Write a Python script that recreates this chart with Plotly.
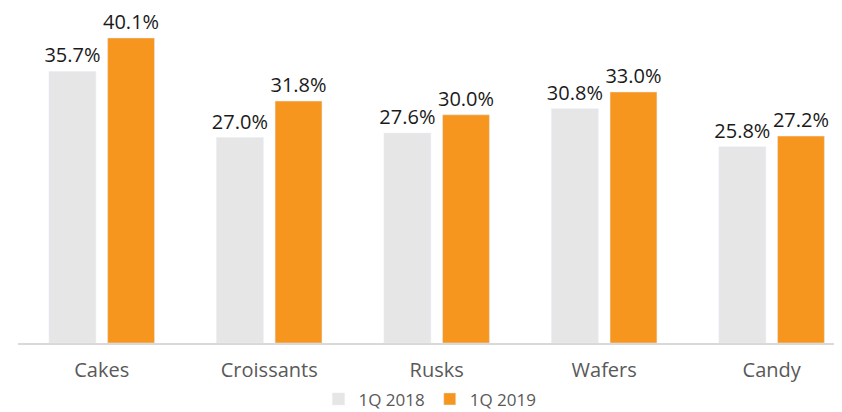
import plotly.graph_objects as go

categories = ["Cakes", "Croissants", "Rusks", "Wafers", "Candy"]
q2018 = [35.7, 27.0, 27.6, 30.8, 25.8]
q2019 = [40.1, 31.8, 30.0, 33.0, 27.2]
series_names = ["1Q 2018", "1Q 2019"]

fig = go.Figure()
fig.add_trace(go.Bar(x=categories, y=q2018, name=series_names[0], marker_color="#e6e6e6",
                     text=[f"{v:.1f}%" for v in q2018], textposition="outside",
                     textfont=dict(size=20, color="#1a1a1a"), cliponaxis=False))
fig.add_trace(go.Bar(x=categories, y=q2019, name=series_names[1], marker_color="#f7961f",
                     text=[f"{v:.1f}%" for v in q2019], textposition="outside",
                     textfont=dict(size=20, color="#1a1a1a"), cliponaxis=False))

# page body has an 8px margin, so the figure is nudged up/left to compensate
fig.update_layout(
    width=842, height=412,
    margin=dict(l=10, r=8, t=0, b=77, autoexpand=False),
    paper_bgcolor="white", plot_bgcolor="white",
    barmode="group", bargap=0.30, bargroupgap=0.2,
    font=dict(family="Open Sans, sans-serif", size=20, color="#595959"),
    uniformtext=dict(minsize=20, mode="show"),
    xaxis=dict(range=[-0.5, 4.42], showline=True, linecolor="#d9d9d9", linewidth=2,
               ticks="", automargin=False, ticklabelstandoff=8,
               tickfont=dict(size=20, color="#595959")),
    yaxis=dict(range=[0, 44.04], visible=False, automargin=False),
    legend=dict(orientation="h", x=0.5, xanchor="center", yref="container", y=0.05,
                yanchor="middle", font=dict(size=17, color="#595959")),
    showlegend=True,
)

fig.write_html("out.html")
